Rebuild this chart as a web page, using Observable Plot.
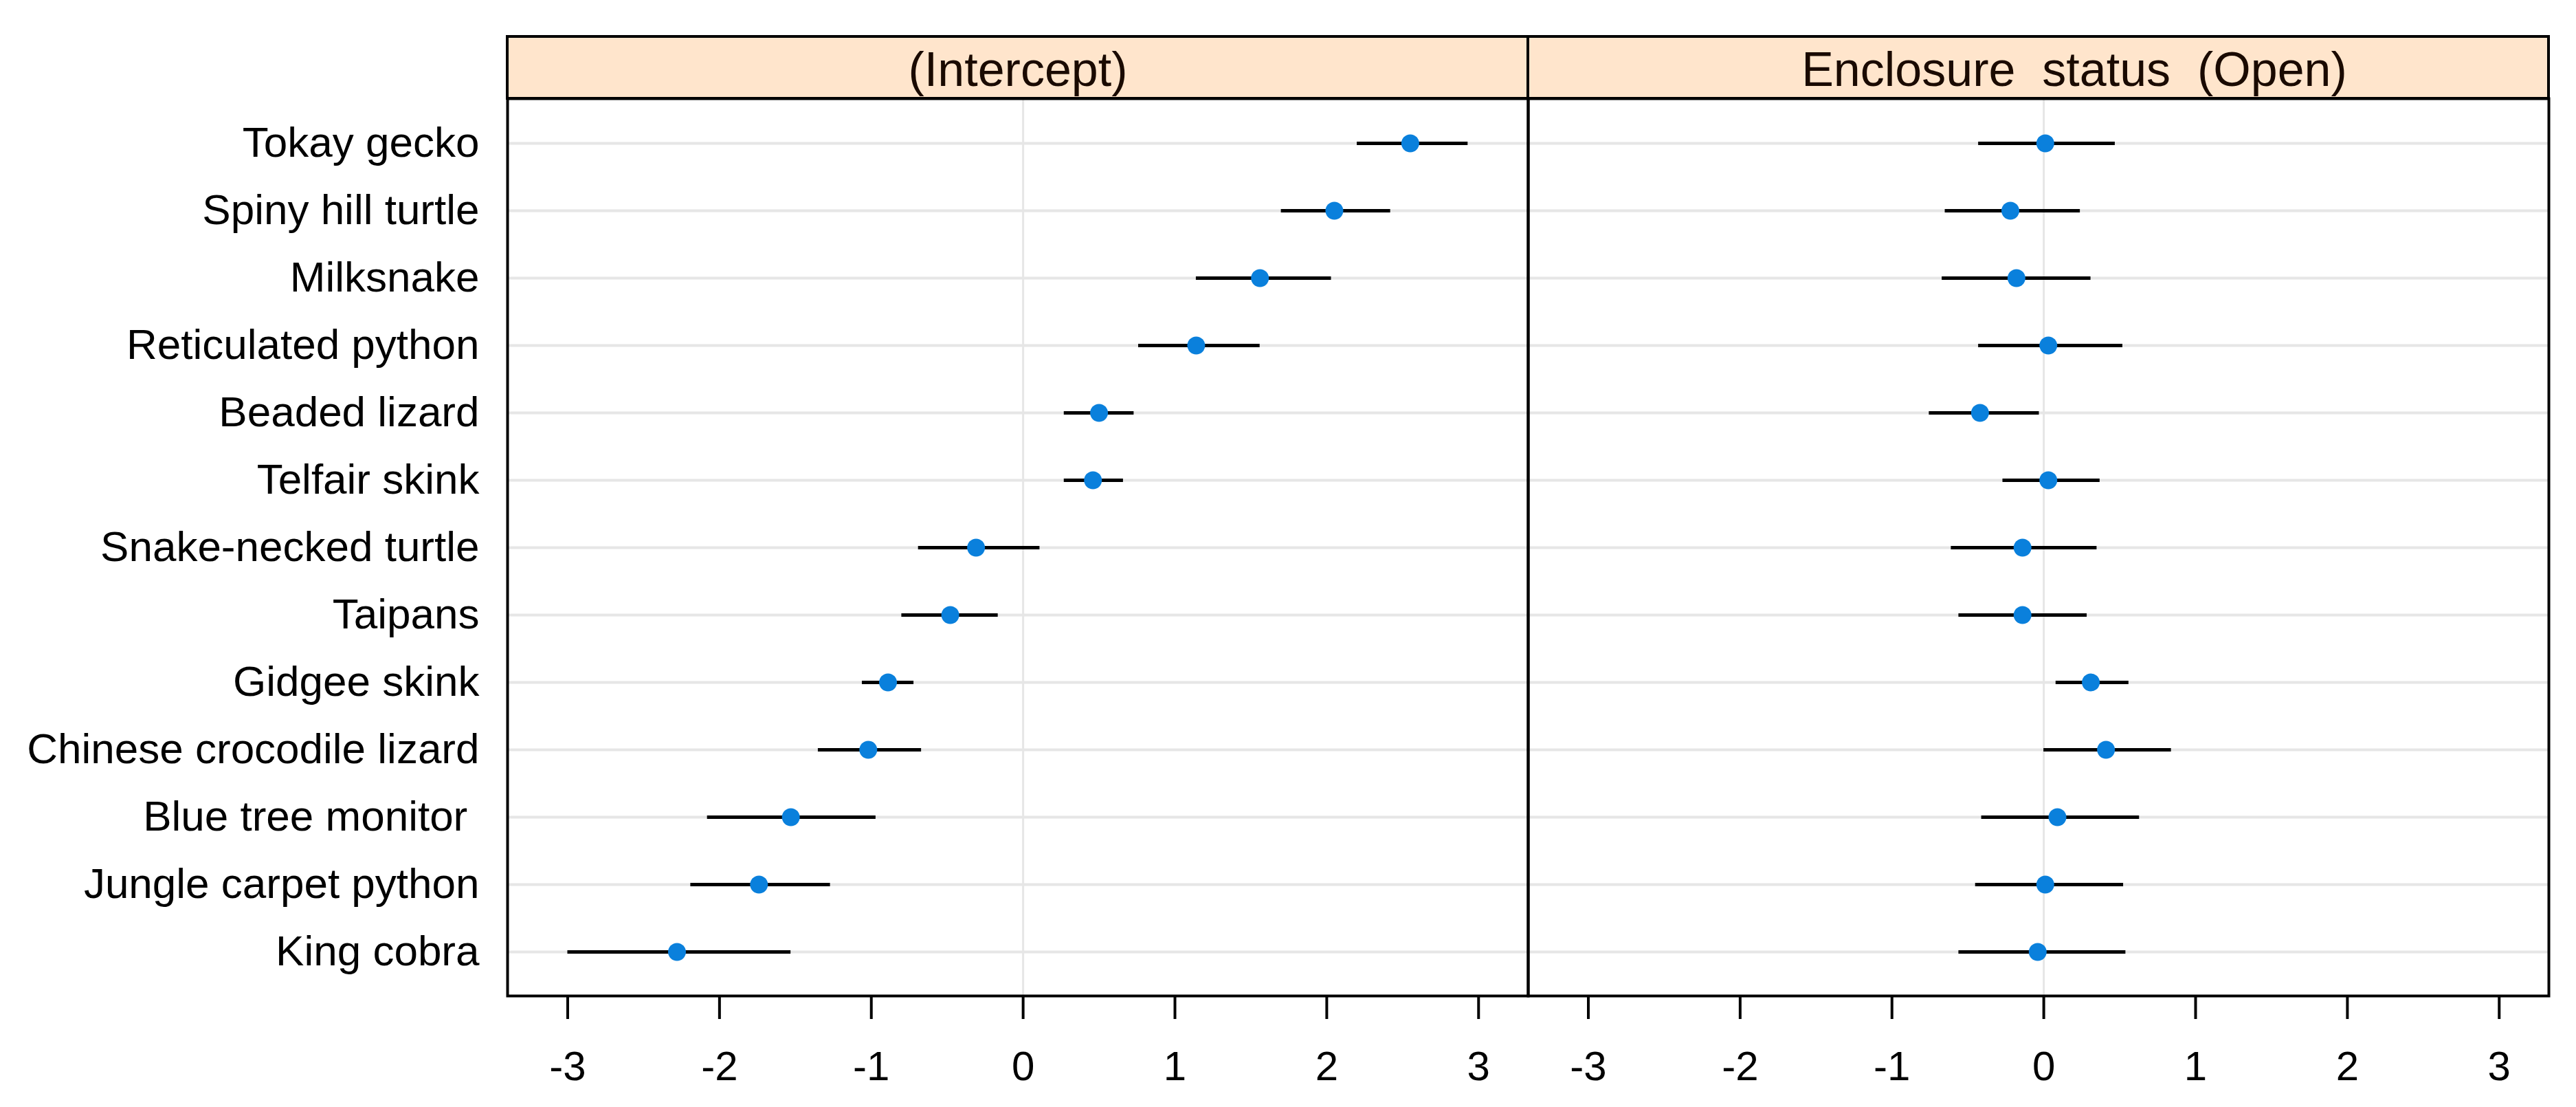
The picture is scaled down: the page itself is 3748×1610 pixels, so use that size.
<!DOCTYPE html>
<html>
<head>
<meta charset="utf-8">
<script src="https://cdn.jsdelivr.net/npm/d3@7"></script>
<script src="https://cdn.jsdelivr.net/npm/@observablehq/plot@0.6"></script>
<style>
  body { margin: 0; background: white; }
  svg text { white-space: pre; }
</style>
</head>
<body>
<div id="chart"></div>
<script>
const terms = ["(Intercept)", "Enclosure  status  (Open)"];
const species = ["Tokay gecko", "Spiny hill turtle", "Milksnake", "Reticulated python", "Beaded lizard",
  "Telfair skink", "Snake-necked turtle", "Taipans", "Gidgee skink", "Chinese crocodile lizard",
  "Blue tree monitor ", "Jungle carpet python", "King cobra"];
const interceptEst = [2.55, 2.05, 1.56, 1.14, 0.50, 0.46, -0.31, -0.48, -0.89, -1.02, -1.53, -1.74, -2.28];
const interceptLo  = [2.20, 1.70, 1.14, 0.76, 0.27, 0.27, -0.69, -0.80, -1.06, -1.35, -2.08, -2.19, -3.00];
const interceptHi  = [2.93, 2.42, 2.03, 1.56, 0.73, 0.66, 0.11, -0.165, -0.72, -0.67, -0.97, -1.27, -1.53];
const openEst = [0.01, -0.22, -0.18, 0.03, -0.42, 0.03, -0.14, -0.14, 0.31, 0.41, 0.09, 0.01, -0.04];
const openLo  = [-0.43, -0.65, -0.67, -0.43, -0.755, -0.27, -0.61, -0.56, 0.08, 0.00, -0.41, -0.45, -0.56];
const openHi  = [0.47, 0.24, 0.31, 0.52, -0.03, 0.37, 0.35, 0.285, 0.56, 0.84, 0.63, 0.525, 0.54];
const xTicks = [-3, -2, -1, 0, 1, 2, 3];

const rows = [];
species.forEach((s, i) => {
  rows.push({term: terms[0], species: s, est: interceptEst[i], lo: interceptLo[i], hi: interceptHi[i]});
  rows.push({term: terms[1], species: s, est: openEst[i], lo: openLo[i], hi: openHi[i]});
});

const W = 3748, H = 1610, mT = 143, mB = 162;
const frameH = H - mT - mB;

const chart = Plot.plot({
  width: W,
  height: H,
  marginLeft: 737,
  marginRight: 40,
  marginTop: mT,
  marginBottom: mB,
  style: {fontFamily: "'Liberation Sans', Arial, sans-serif", fontSize: "62px", background: "white", color: "black"},
  fx: {domain: terms, padding: 0, axis: null},
  x: {domain: [-3.396, 3.327]},
  y: {type: "point", domain: species, padding: 0.65, axis: null},
  marks: [
    Plot.ruleY(species, {y: d => d, stroke: "#e6e6e6", strokeWidth: 4}),
    Plot.ruleX([0], {stroke: "#e6e6e6", strokeWidth: 3}),
    Plot.ruleY(rows, {fx: "term", y: "species", x1: "lo", x2: "hi", stroke: "black", strokeWidth: 5}),
    Plot.dot(rows, {fx: "term", y: "species", x: "est", symbol: "circle", r: 13, fill: "#0a80dc", stroke: null}),
    Plot.frame({stroke: "black", strokeWidth: 4}),
    Plot.rect(terms, {fx: d => d, fill: "#ffe5cc", stroke: "black", strokeWidth: 4, insetTop: -90, insetBottom: frameH}),
    Plot.text([terms[0]], {fx: d => d, text: d => d, frameAnchor: "top", dy: -41, lineAnchor: "middle", fontSize: 70, fill: "#1a0a00"}),
    Plot.text([terms[1]], {fx: d => d, text: d => d, frameAnchor: "top", dy: -41, dx: 52, lineAnchor: "middle", fontSize: 70, fill: "#1a0a00"}),
    Plot.text(species, {fx: () => terms[0], y: d => d, text: d => d, frameAnchor: "left", textAnchor: "end", dx: -41, fontSize: 62, fill: "black"}),
    Plot.axisX({ticks: xTicks, tickSize: 34, tickPadding: 46, strokeWidth: 4, fontSize: 60, tickFormat: d => String(d), label: null})
  ]
});
document.getElementById("chart").appendChild(chart);
</script>
</body>
</html>
